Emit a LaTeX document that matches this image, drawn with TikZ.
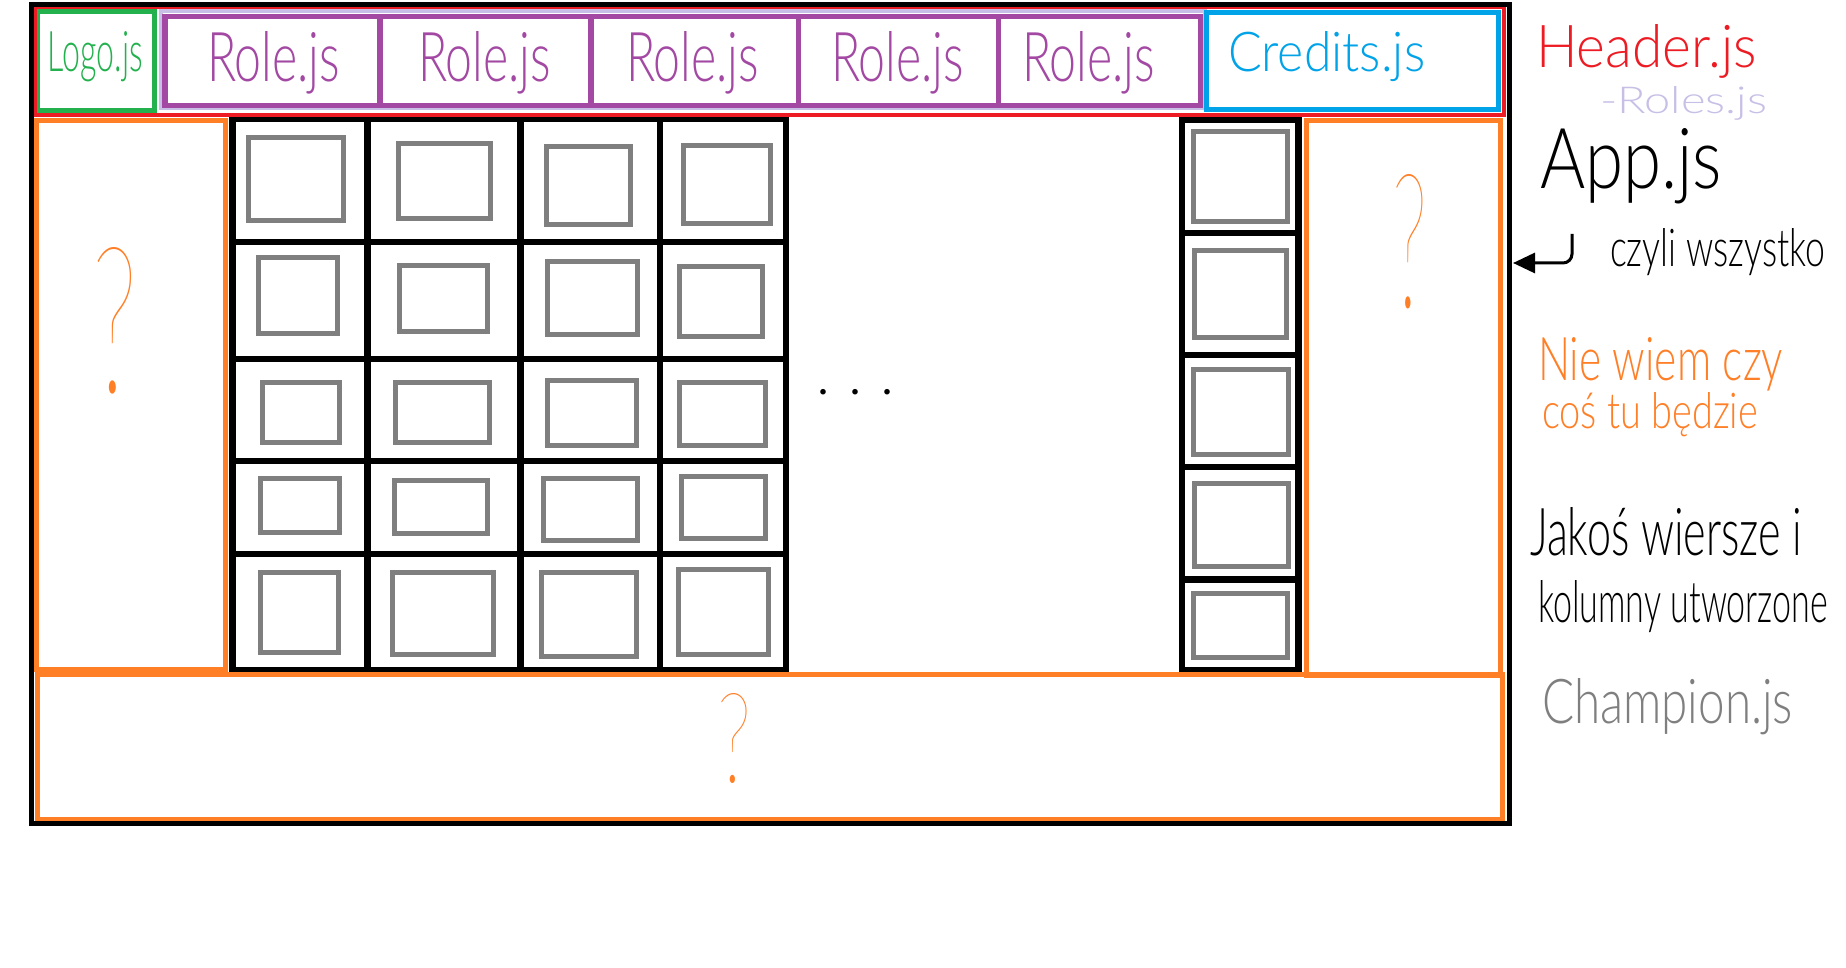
\documentclass[tikz,border=0pt]{standalone}
\usepackage{graphicx}
\usepackage{fontspec}
\IfFontExistsTF{Lato Light}{\setmainfont{Lato Light}}{\setmainfont{Fira Sans}}
\IfFontExistsTF{Lato Hairline}{\newfontfamily\thinfont{Lato Hairline}}{%
  \IfFontExistsTF{Lato Thin}{\newfontfamily\thinfont{Lato Thin}}{\newfontfamily\thinfont{Liberation Sans}}}
\usetikzlibrary{arrows.meta}
\definecolor{pred}{HTML}{ED1C24}
\definecolor{pgreen}{HTML}{22B14C}
\definecolor{ppurple}{HTML}{A349A4}
\definecolor{plav}{HTML}{C8BFE7}
\definecolor{pblue}{HTML}{00A2E8}
\definecolor{porange}{HTML}{FF7F27}
\definecolor{pgray}{HTML}{7F7F7F}
\newcommand{\fitbox}[3]{\resizebox{#1pt}{#2pt}{#3}}
\tikzset{
  lbl/.style={inner sep=0pt, outer sep=0pt, anchor=base west},
  gsq/.style={draw=pgray, line width=5pt},
  gridline/.style={draw=black, line width=6.5pt, line cap=butt},
  orbox/.style={draw=porange, line width=5pt},
  purbox/.style={draw=ppurple, line width=5.5pt},
}
\begin{document}
\begin{tikzpicture}[x=1pt,y=-1pt,line join=miter]
\useasboundingbox[fill=white] (0,0) rectangle (1846,968);

% grey inner squares (Champion.js)
\foreach \a/\b/\c/\d in {
 248.5/137.5/343.5/220.5, 398.5/143.5/490.5/218.5, 546.5/146.5/630.5/224.5, 683.5/145.5/770.5/223.5,
 258.5/257.5/337.5/333.5, 399.5/265.5/487.5/331.5, 547.5/261.5/637.5/334.5, 679.5/266.5/762.5/336.5,
 262.5/382.5/339.5/442.5, 395.5/382.5/489.5/442.5, 547.5/380.5/636.5/445.5, 679.5/382.5/765.5/445.5,
 260.5/478.5/339.5/532.5, 394.5/480.5/487.5/533.5, 543.5/478.5/637.5/540.5, 681.5/476.5/765.5/538.5,
 260.5/572.5/338.5/652.5, 392.5/572.5/493.5/654.5, 541.5/572.5/636.5/656.5, 678.5/569.5/768.5/654.5,
 1193.5/131.5/1287.5/221.5, 1194.5/250.5/1286.5/337.5, 1193.5/369.5/1288.5/454.5,
 1194.5/483.5/1288.5/566.5, 1193.5/593.5/1287.5/657.5}
  \draw[gsq] (\a,\b) rectangle (\c,\d);

% black grid
\foreach \x in {232.5,367.5,520.5,660,786}
  \draw[gridline] (\x,116) -- (\x,673.5);
\foreach \y in {119,242,359,461,554,670.5}
  \draw[gridline] (229.5,\y) -- (789,\y);
\foreach \x in {1182,1298.5}
  \draw[gridline] (\x,116.5) -- (\x,673.5);
\foreach \y in {119.5,233,355,467,579.5,670.5}
  \draw[gridline] (1179,\y) -- (1301.5,\y);

% orange panels
\draw[orbox] (36.5,120.5) rectangle (225.5,669.5);
\draw[orbox] (1306,120.5) rectangle (1500,675.5);
\draw[orbox] (37.5,674.5) rectangle (1502.5,819.5);

% header
\draw[draw=plav, line width=4pt] (160.5,11.5) rectangle (1205,108.5);
\draw[purbox] (165,16.5) rectangle (1200.5,105.5);
\foreach \x in {380,591,798.5,998.5}
  \draw[purbox] (\x,16.5) -- (\x,105.5);
\draw[draw=pgreen, line width=4.5pt] (38,11.5) rectangle (154.5,110.5);
\draw[draw=pblue, line width=5pt] (1206.5,12.5) rectangle (1498,110);
\draw[draw=pred, line width=4pt] (35,7.5) rectangle (1504,115);
\draw[draw=black, line width=5pt] (31,5) rectangle (1509,823);

% header texts
\node[lbl, text=pgreen] (logo) at (48,72) {\fitbox{95}{40}{Logo.js}};
\node[lbl, text=ppurple] (role1) at (207,82) {\fitbox{133}{50}{Role.js}};
\node[lbl, text=ppurple] (role2) at (418,82) {\fitbox{133}{50}{Role.js}};
\node[lbl, text=ppurple] (role3) at (626,82) {\fitbox{133}{50}{Role.js}};
\node[lbl, text=ppurple] (role4) at (831,82) {\fitbox{133}{50}{Role.js}};
\node[lbl, text=ppurple] (role5) at (1022,82) {\fitbox{133}{50}{Role.js}};
\node[lbl, text=pblue] (credits) at (1228,72) {\fitbox{197}{40}{Credits.js}};

% question marks and dots
\node[lbl, text=porange] (q1) at (92,392) {\thinfont\fitbox{45}{145}{?}};
\node[lbl, text=porange] (q2) at (1392,307) {\thinfont\fitbox{35}{133}{?}};
\node[lbl, text=porange] (q3) at (717,782) {\thinfont\fitbox{34}{89}{?}};
\node[lbl] (dots) at (816,394) {\fontsize{60}{60}\selectfont .\hspace{18pt}.\hspace{18pt}.};

% annotations
\node[lbl, text=pred] (hdr) at (1536,68) {\fitbox{221}{43}{Header.js}};
\node[lbl, text=plav] (rls) at (1600,114) {\fitbox{167}{27}{-Roles.js}};
\node[lbl] (app) at (1540,189) {\fitbox{182}{60}{App.js}};
\node[lbl] (czyli) at (1610,267) {\fitbox{215}{38}{czyli wszystko}};
\node[lbl, text=porange] (nie) at (1538,380) {\fitbox{245}{43}{Nie wiem czy}};
\node[lbl, text=porange] (cos) at (1542,428) {\fitbox{216}{36}{coś tu będzie}};
\node[lbl] (jakos) at (1530,555) {\fitbox{272}{48}{Jakoś wiersze i}};
\node[lbl] (kol) at (1538,622) {\fitbox{290}{42}{kolumny utworzone}};
\node[lbl, text=pgray] (champ) at (1542,723) {\fitbox{251}{45}{Champion.js}};

% arrow
\coordinate (arS) at (1572,234);
\coordinate (arE) at (1513,263);
\draw[line width=3pt, rounded corners=9pt, -{Triangle[length=22pt,width=20pt]}] (arS) |- (arE);
\end{tikzpicture}
\end{document}
